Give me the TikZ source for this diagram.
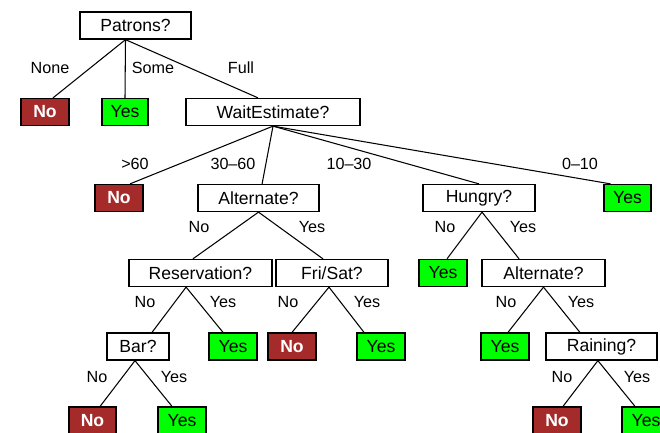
\documentclass[tikz,border=0pt]{standalone}
\usepackage{fontspec}
\setmainfont{Liberation Sans}
\definecolor{NoRed}{HTML}{A52A2A}
\definecolor{YesGreen}{HTML}{00FF00}

\begin{document}
\begin{tikzpicture}[x=0.025cm,y=-0.025cm,
    attr/.style={draw=black,line width=0.9pt,fill=white,minimum height=0.675cm,inner sep=0pt,font=\fontsize{12.5}{15}\selectfont},
    nobox/.style={attr,fill=NoRed,text=white,minimum width=1.2cm,font=\fontsize{12.5}{15}\selectfont\bfseries},
    yesbox/.style={attr,fill=YesGreen,minimum width=1.2cm},
    lab/.style={font=\fontsize{11.5}{14}\selectfont},
    edge/.style={line width=0.75pt}
  ]
    \useasboundingbox (0,0) rectangle (660,433);
    \node[attr,minimum width=2.775cm] (pat) at (135.5,25.5) {Patrons?};
    \node[nobox] (pNone) at (45,112) {No};
    \node[yesbox,minimum width=1.15cm] (pSome) at (125,112) {Yes};
    \node[attr,minimum width=4.35cm] (wait) at (273,112) {WaitEstimate?};
    \node[nobox] (wOver) at (119,198) {No};
    \node[attr,minimum width=3.025cm] (alt) at (258.5,198) {Alternate?};
    \node[attr,minimum width=2.8cm] (hun) at (479,198) {Hungry?};
    \node[yesbox,minimum width=1.175cm] (wLow) at (627.5,198) {Yes};
    \node[attr,minimum width=3.575cm] (res) at (200.5,273) {Reservation?};
    \node[attr,minimum width=2.8cm] (fri) at (332,273) {Fri/Sat?};
    \node[yesbox] (hYes) at (443,273) {Yes};
    \node[attr,minimum width=3.075cm] (alt2) at (543.5,273) {Alternate?};
    \node[attr,minimum width=1.55cm] (bar) at (138,346.5) {Bar?};
    \node[yesbox] (rYes) at (233,346.5) {Yes};
    \node[nobox] (fNo) at (292,346.5) {No};
    \node[yesbox] (fYes) at (381,346.5) {Yes};
    \node[yesbox] (aYes) at (505,346.5) {Yes};
    \node[attr,minimum width=2.775cm] (rain) at (601.5,346.5) {Raining?};
    \node[nobox,minimum width=1.175cm] (bNo) at (92.5,420.5) {No};
    \node[yesbox] (bYes) at (182,420.5) {Yes};
    \node[nobox] (rnNo) at (557,420.5) {No};
    \node[yesbox] (rnYes) at (646,420.5) {Yes};
    \draw[edge] ([xshift=-0.25cm]pat.south) -- ([xshift=0.2cm]pNone.north);
    \draw[edge] ([xshift=-0.25cm]pat.south) -- (pSome.north);
    \draw[edge] ([xshift=-0.25cm]pat.south) -- ([xshift=-0.375cm]wait.north);
    \draw[edge] (wait.south) -- ([xshift=0.275cm]wOver.north);
    \draw[edge] (wait.south) -- ([xshift=0.09cm]alt.north);
    \draw[edge] (wait.south) -- (hun.north);
    \draw[edge] (wait.south) -- ([xshift=-0.425cm]wLow.north);
    \draw[edge] (alt.south) -- ([xshift=-0.19cm]res.north);
    \draw[edge] (alt.south) -- ([xshift=-0.225cm]fri.north);
    \draw[edge] ([xshift=-0.36cm]res.south) -- ([xshift=0.35cm]bar.north);
    \draw[edge] ([xshift=-0.36cm]res.south) -- ([xshift=-0.25cm]rYes.north);
    \draw[edge] ([xshift=-0.075cm]fri.south) -- (fNo.north);
    \draw[edge] ([xshift=-0.075cm]fri.south) -- ([xshift=-0.425cm]fYes.north);
    \draw[edge] ([xshift=-0.075cm]bar.south) -- ([xshift=0.19cm]bNo.north);
    \draw[edge] ([xshift=-0.075cm]bar.south) -- ([xshift=-0.25cm]bYes.north);
    \draw[edge] ([xshift=0.075cm]hun.south) -- ([xshift=0.1cm]hYes.north);
    \draw[edge] ([xshift=0.075cm]hun.south) -- ([xshift=-0.61cm]alt2.north);
    \draw[edge] (alt2.south) -- ([xshift=0.075cm]aYes.north);
    \draw[edge] (alt2.south) -- ([xshift=-0.54cm]rain.north);
    \draw[edge] ([xshift=-0.09cm]rain.south) -- ([xshift=0.15cm]rnNo.north);
    \draw[edge] ([xshift=-0.09cm]rain.south) -- ([xshift=-0.275cm]rnYes.north);
    \node[lab] (lNone) at (50,68) {None};
    \node[lab] (lSome) at (153,68) {Some};
    \node[lab] (lFull) at (241,68) {Full};
    \node[lab] (lOver) at (135,164) {>60};
    \node[lab] (lMid) at (233,164) {30--60};
    \node[lab] (lLow) at (349,164) {10--30};
    \node[lab] (lMin) at (580,164) {0--10};
    \node[lab] (laNo) at (199,227) {No};
    \node[lab] (laYes) at (312,227) {Yes};
    \node[lab] (lrNo) at (145,302) {No};
    \node[lab] (lrYes) at (223,302) {Yes};
    \node[lab] (lfNo) at (288,302) {No};
    \node[lab] (lfYes) at (367,302) {Yes};
    \node[lab] (lbNo) at (97,377) {No};
    \node[lab] (lbYes) at (174,377) {Yes};
    \node[lab] (lhNo) at (445,227) {No};
    \node[lab] (lhYes) at (523,227) {Yes};
    \node[lab] (la2No) at (506,302) {No};
    \node[lab] (la2Yes) at (581,302) {Yes};
    \node[lab] (lnNo) at (562,377) {No};
    \node[lab] (lnYes) at (637,377) {Yes};
  \end{tikzpicture}
\end{document}
